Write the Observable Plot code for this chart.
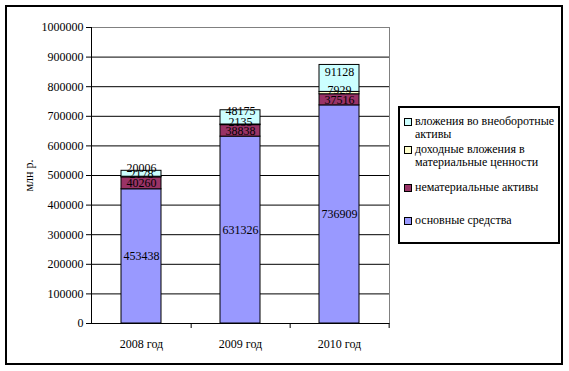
<!DOCTYPE html>
<html>
<head>
<meta charset="utf-8">
<script src="https://cdn.jsdelivr.net/npm/d3@7"></script>
<script src="https://cdn.jsdelivr.net/npm/@observablehq/plot@0.6"></script>
<style>
  body { margin: 0; background: #fff; }
  #wrap { position: relative; width: 569px; height: 371px; font-family: "Liberation Serif", "Times New Roman", Times, "DejaVu Serif", serif; }
  #outer { position: absolute; left: 5px; top: 5px; width: 558px; height: 360px; border: 2px solid #000; box-sizing: border-box; }
  #legend { position: absolute; left: 398px; top: 106px; width: 162px; height: 138px; border: 2px solid #000; box-sizing: border-box; background: #fff; }
  .item { position: absolute; left: 0; font-size: 12px; line-height: 13px; color: #000; }
  .sw { position: absolute; left: 4px; top: 3px; width: 6px; height: 6px; border: 1px solid #000; }
  .lbl { position: absolute; left: 15px; width: 145px; white-space: normal; }
  #chart { position: absolute; left: 0; top: 0; }
</style>
</head>
<body>
<div id="wrap">
  <div id="outer"></div>
  <div id="chart"></div>
  <div id="legend"></div>
</div>
<script>
const years = ["2008 год", "2009 год", "2010 год"];
const seriesNames = [
  "основные средства",
  "нематериальные активы",
  "доходные вложения в материальные ценности",
  "вложения во внеоборотные активы"
];
const fixedAssets = [453438, 631326, 736909];
const intangibleAssets = [40260, 38838, 37516];
const profitableInvestments = [2178, 2135, 7929];
const nonCurrentInvestments = [20006, 48175, 91128];
const seriesColors = ["#9999FF", "#993366", "#FFFFCC", "#CCFFFF"];
const yTicks = [0, 100000, 200000, 300000, 400000, 500000, 600000, 700000, 800000, 900000, 1000000];

const seriesValues = [fixedAssets, intangibleAssets, profitableInvestments, nonCurrentInvestments];
const data = [];
seriesNames.forEach((s, si) => {
  years.forEach((y, yi) => data.push({ year: y, series: s, value: seriesValues[si][yi] }));
});

const W = 569, H = 371, mL = 91, mR = 180, mT = 27, mB = 48;
const step = (W - mL - mR) / years.length;

function labelMark(si, dy) {
  return Plot.text(data, Plot.stackY({
    x: "year", y: "value", z: "series",
    text: d => d.series === seriesNames[si] ? String(d.value) : "",
    fill: "black", fontSize: 12, dy
  }));
}

const chart = Plot.plot({
  width: W, height: H,
  marginLeft: mL, marginRight: mR, marginTop: mT, marginBottom: mB,
  style: { fontFamily: "'Liberation Serif', 'Times New Roman', Times, 'DejaVu Serif', serif", fontSize: "12px", color: "black", background: "transparent" },
  x: { domain: years, paddingInner: 0.6, paddingOuter: 0.3 },
  y: { domain: [0, 1000000] },
  color: { domain: seriesNames, range: seriesColors },
  marks: [
    Plot.frame({ stroke: "#808080" }),
    Plot.ruleY(yTicks.slice(1, -1), { stroke: "black" }),
    Plot.barY(data, { x: "year", y: "value", fill: "series", stroke: "black", strokeWidth: 1 }),
    labelMark(0, 0),
    labelMark(1, 0),
    labelMark(2, -3),
    labelMark(3, -6),
    Plot.ruleY([0], { stroke: "black" }),
    Plot.frame({ anchor: "left", stroke: "black" }),
    Plot.axisY({ ticks: yTicks, tickSize: 5, tickPadding: 3, tickFormat: d => String(d), label: "млн р.", labelAnchor: "center", labelArrow: "none", labelOffset: 67, fontSize: 12 }),
    Plot.axisX({ tickSize: 0, tickPadding: 16, label: null, fontSize: 12 }),
    Plot.axisX({ tickSize: 5, dx: step / 2, tickFormat: () => "", label: null })
  ]
});
document.getElementById("chart").appendChild(chart);

// Legend (top to bottom: reverse of stack order)
const legend = document.getElementById("legend");
const itemTops = [7, 35, 73, 106];
[3, 2, 1, 0].forEach((si, i) => {
  const it = document.createElement("div");
  it.className = "item";
  it.style.top = itemTops[i] + "px";
  const sw = document.createElement("div");
  sw.className = "sw";
  sw.style.background = seriesColors[si];
  const lb = document.createElement("div");
  lb.className = "lbl";
  lb.textContent = seriesNames[si];
  it.appendChild(sw);
  it.appendChild(lb);
  legend.appendChild(it);
});
</script>
</body>
</html>
